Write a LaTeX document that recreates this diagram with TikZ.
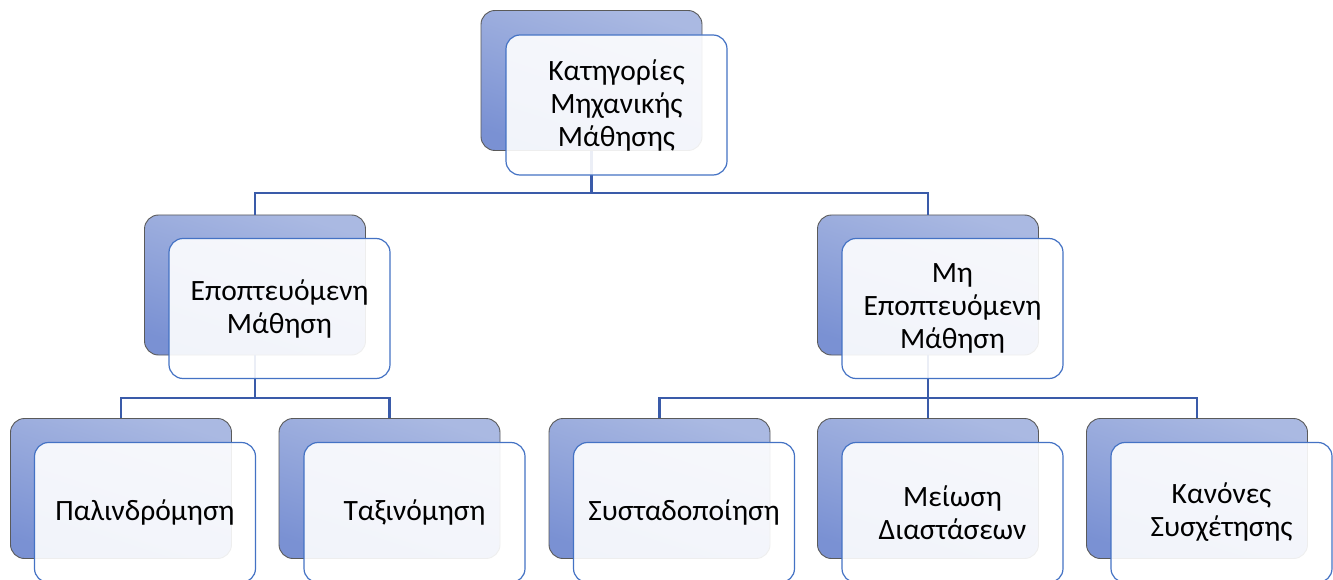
\documentclass[tikz,border=0pt]{standalone}
\usepackage{fontspec}
\setmainfont{Carlito}
\usetikzlibrary{calc}
\definecolor{conncol}{HTML}{3A5BA9}
\definecolor{frontline}{HTML}{4472C4}
\definecolor{backtop}{HTML}{AAB9E2}
\definecolor{backbot}{HTML}{7A91D3}
\definecolor{backline}{HTML}{5A5A5A}
\tikzset{
  backbox/.style={draw=backline, line width=0.9pt, rounded corners=14pt,
    minimum width=221pt, minimum height=140pt, inner sep=0pt,
    top color=backtop, bottom color=backbot, shading angle=-18},
  frontbox/.style={draw=frontline, line width=1.2pt, rounded corners=14pt,
    fill=white, fill opacity=0.9, text opacity=1,
    minimum width=221pt, minimum height=140pt, inner sep=0pt, align=center,
    font=\fontsize{29.5}{33}\selectfont},
  conn/.style={draw=conncol, line width=2.2pt}
}
\begin{document}
\begin{tikzpicture}[x=1pt,y=-1pt]
\path[use as bounding box] (0,0) rectangle (1333,580);
\clip (0,0) rectangle (1333,580);
\fill[white] (0,0) rectangle (1333,580);
% back boxes
\node[backbox] (rB) at (591.5,80.5) {};
\node[backbox] (lB) at (255,285) {};
\node[backbox] (uB) at (928,285) {};
\node[backbox] (aB) at (121,488.5) {};
\node[backbox] (bB) at (389.5,488.5) {};
\node[backbox] (cB) at (659.5,488.5) {};
\node[backbox] (dB) at (928,488.5) {};
\node[backbox] (eB) at (1197,488.5) {};
% junctions
\coordinate (j1) at (591.5,193);
\coordinate (j2) at (255,398);
\coordinate (j3) at (928,398);
% connectors
\draw[conn] (rB.south) -- (j1);
\draw[conn] (lB.north) |- (j1) -| (uB.north);
\draw[conn] (lB.south) -- (j2);
\draw[conn] (aB.north) |- (j2) -| (bB.north);
\draw[conn] (uB.south) -- (j3);
\draw[conn] (cB.north) |- (j3) -| (eB.north);
\draw[conn] (j3) -- (dB.north);
% front boxes
\node[frontbox] (r) at (616.5,105) {Κατηγορίες\\Μηχανικής\\Μάθησης};
\node[frontbox] (l) at (279.5,308.5) {Εποπτευόμενη\\Μάθηση};
\node[frontbox] (u) at (952.5,308.5) {Μη\\Εποπτευόμενη\\Μάθηση};
\node[frontbox] (a) at (145,512.5) {Παλινδρόμηση};
\node[frontbox] (b) at (414.5,512.5) {Ταξινόμηση};
\node[frontbox] (c) at (684,512.5) {Συσταδοποίηση};
\node[frontbox] (d) at (952.5,512.5) {Μείωση\\Διαστάσεων};
\node[frontbox] (e) at (1221.5,512.5) {Κανόνες\\Συσχέτησης};
\end{tikzpicture}
\end{document}
